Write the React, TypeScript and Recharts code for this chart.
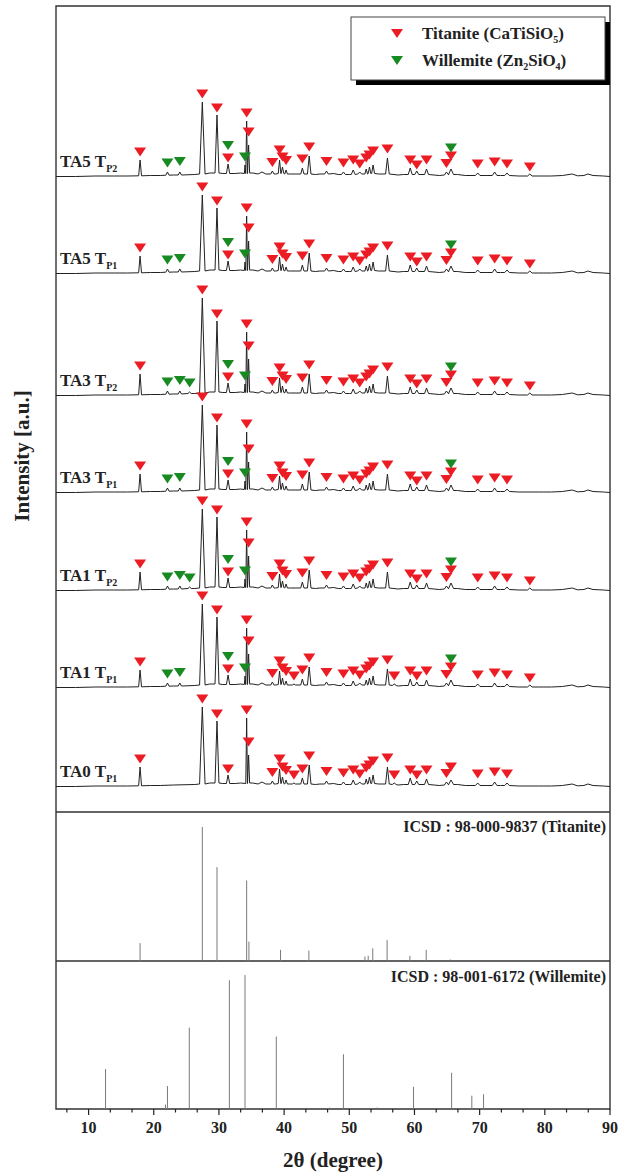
import React from "react";
import {
  ComposedChart,
  Line,
  Scatter,
  XAxis,
  YAxis,
  ReferenceArea,
  ReferenceLine,
} from "recharts";

const FONT = '"Liberation Serif", "Times New Roman", serif';
const RED = "#ec1c24";
const GREEN = "#178a22";
const INK = "#222";

// 2θ of every peak seen in the measured patterns
const peakPos = [
  17.9, 22.1, 24.0, 25.5, 27.45, 29.7, 31.4, 34.0, 34.25, 34.55, 38.2, 39.3,
  39.75, 40.3, 41.5, 42.8, 43.85, 46.5, 49.1, 50.6, 51.6, 52.6, 53.1, 53.65,
  55.85, 56.9, 59.35, 60.35, 61.85, 64.9, 65.6, 69.7, 72.3, 74.2, 77.7,
];
// t = titanite, w = willemite, tw = both
const peakPhase = [
  "t", "w", "w", "w", "t", "t", "tw", "w", "t", "t", "t", "t",
  "t", "t", "t", "t", "t", "t", "t", "t", "t", "t", "t", "t",
  "t", "t", "t", "t", "t", "t", "tw", "t", "t", "t", "t",
];
const peakWidth = [
  0.22, 0.25, 0.25, 0.25, 0.42, 0.3, 0.25, 0.1, 0.13, 0.16, 0.25, 0.2,
  0.2, 0.2, 0.25, 0.25, 0.27, 0.28, 0.3, 0.3, 0.3, 0.2, 0.2, 0.22,
  0.28, 0.3, 0.3, 0.3, 0.3, 0.3, 0.4, 0.35, 0.35, 0.35, 0.35,
];
const peakFoot = [
  1.2, 1.8, 2, 2.5, 3, 4, 3.5, 3.5, 3.5, 4, 3, 3.5,
  3.5, 3, 3, 3, 3, 3, 2.5, 2.5, 3, 3, 3.5, 3.5,
  3, 2.5, 2.5, 2.5, 2.5, 2, 2.5, 1.5, 1.5, 1.5, 1,
];
// marker centre above the peak top
const redGap = [
  8, 0, 0, 0, 8, 7, 6, 0, 8, 13, 8.5, 10,
  10, 9.5, 8, 9, 9, 9.5, 9, 10, 8, 11, 12, 14,
  9, 8, 8, 6, 9, 8.5, 13, 9, 10, 9, 7,
];
const greenGap = [
  0, 9, 10.5, 9, 0, 0, 18.5, 8, 0, 0, 0, 0,
  0, 0, 0, 0, 0, 0, 0, 0, 0, 0, 0, 0,
  0, 0, 0, 0, 0, 0, 21, 0, 0, 0, 0,
];

// background between peaks (px above each trace's baseline)
const background: [number, number][] = [
  [5, 0.5], [8, 0.5], [11, 1], [14, 1], [16, 1], [19.5, 1.5], [21, 1.5],
  [23, 2], [26.3, 2.5], [28.6, 4], [30.6, 3.5], [32.5, 3.5], [33.3, 4],
  [35.2, 4], [36, 3], [36.6, 5], [37.2, 3], [38.7, 3], [41, 3], [44.8, 2.5],
  [45.5, 3], [47.6, 3.5], [48.3, 2.5], [50, 2.5], [54.5, 3], [57.5, 2],
  [58.3, 2.5], [63, 2], [63.8, 1.5], [66.6, 2.5], [67.8, 1.5], [71, 1.5],
  [73.2, 1.5], [76, 1], [79, 1], [81, 1], [82.7, 1.5], [84.2, 3], [85, 1.2],
  [86, 1.5], [86.6, 3], [87.4, 1.5], [89, 1], [90, 0.5],
];

const sampleNames = ["TA5", "TA5", "TA3", "TA3", "TA1", "TA1", "TA0"];
const sampleSubs = ["P2", "P1", "P2", "P1", "P2", "P1", "P1"];
const sampleOffset = [635, 538, 416, 319, 221, 124, 25];
const hasWillemite = [true, true, true, true, true, true, false];

// peak tops per sample, same order as peakPos (0 = no peak)
const ta5p2 = [17, 5, 5, 0, 75, 62, 13, 12, 56, 32, 6, 17, 10, 7, 0, 9, 21, 6, 5, 7, 5, 8, 10, 12, 19, 0, 9, 6, 8, 5, 8, 4, 5, 4, 3];
const ta5p1 = [18, 5, 5, 0, 79, 66, 13, 12, 58, 33, 6, 17, 10, 7, 0, 9, 21, 6, 5, 7, 5, 8, 10, 12, 19, 0, 9, 6, 8, 5, 8, 4, 5, 4, 3];
const ta3p2 = [22, 5, 5, 4, 98, 75, 13, 12, 64, 37, 6, 18, 10, 7, 0, 9, 22, 6, 5, 7, 5, 8, 10, 12, 20, 0, 9, 6, 8, 5, 8, 4, 5, 4, 3];
const ta3p1 = [19, 5, 5, 0, 88, 68, 13, 12, 61, 31, 6, 17, 10, 7, 0, 9, 21, 6, 5, 7, 5, 8, 10, 12, 19, 0, 9, 6, 8, 5, 8, 4, 5, 4, 0];
const ta1p2 = [19, 5, 5, 4, 82, 74, 13, 12, 61, 35, 6, 17, 10, 7, 0, 9, 21, 6, 5, 7, 5, 8, 10, 12, 19, 0, 9, 6, 8, 5, 8, 4, 5, 4, 3];
const ta1p1 = [18, 5, 5, 0, 84, 71, 13, 12, 60, 34, 6, 17, 10, 7, 4, 9, 21, 6, 5, 7, 5, 8, 10, 12, 19, 4, 9, 6, 8, 5, 8, 4, 5, 4, 3];
const ta0p1 = [20, 0, 0, 0, 80, 66, 12, 0, 69, 32, 6, 18, 10, 7, 4, 9, 22, 6, 5, 7, 5, 8, 10, 12, 20, 4, 9, 6, 8, 5, 7, 4, 5, 4, 0];
const sampleHeights = [ta5p2, ta5p1, ta3p2, ta3p1, ta1p2, ta1p1, ta0p1];

// ICSD reference sticks [2θ, relative intensity]
const titaniteRef: [number, number][] = [
  [17.9, 0.12], [27.45, 0.9], [29.7, 0.63], [34.25, 0.54], [34.6, 0.13],
  [39.45, 0.075], [43.8, 0.07], [52.4, 0.03], [52.9, 0.035], [53.6, 0.085],
  [55.8, 0.14], [59.3, 0.035], [61.8, 0.075], [65.5, 0.01],
];
const willemiteRef: [number, number][] = [
  [12.6, 0.27], [21.8, 0.03], [22.1, 0.155], [25.45, 0.55], [31.6, 0.87],
  [34.0, 0.905], [38.8, 0.49], [47.0, 0.01], [49.1, 0.37], [54.3, 0.01],
  [59.85, 0.15], [65.7, 0.245], [68.8, 0.09], [70.6, 0.1],
];

const majorTicks = [10, 20, 30, 40, 50, 60, 70, 80, 90];

const TOP_MAX = 806;
const MARGIN = { top: 0, right: 11, bottom: 0, left: 56 };

function buildTrace(heights: number[], offset: number) {
  const pts: { t: number; v: number }[] = [];
  heights.forEach((h, i) => {
    if (!h) return;
    const w = peakWidth[i];
    pts.push({ t: peakPos[i] - w, v: offset + peakFoot[i] });
    pts.push({ t: peakPos[i], v: offset + h });
    pts.push({ t: peakPos[i] + w, v: offset + peakFoot[i] });
  });
  background.forEach(([t, b]) => {
    const inside = heights.some(
      (h, i) => h && Math.abs(t - peakPos[i]) <= peakWidth[i] + 0.05
    );
    if (!inside) pts.push({ t, v: offset + b });
  });
  return pts.sort((a, b) => a.t - b.t);
}

const traces = sampleHeights.map((h, s) => buildTrace(h, sampleOffset[s]));

const redMarks: { t: number; v: number }[] = [];
const greenMarks: { t: number; v: number }[] = [];
sampleHeights.forEach((heights, s) => {
  heights.forEach((h, i) => {
    if (!h) return;
    const ph = peakPhase[i];
    if (ph.includes("t")) redMarks.push({ t: peakPos[i], v: sampleOffset[s] + h + redGap[i] });
    if (ph === "w" || (ph === "tw" && hasWillemite[s]))
      greenMarks.push({ t: peakPos[i], v: sampleOffset[s] + h + greenGap[i] });
  });
});

const allTicks: number[] = [];
majorTicks.forEach((m) => {
  allTicks.push(m - 20 / 3, m - 10 / 3, m);
});
const xTicks = allTicks.filter((t) => t >= 5);

const triangle = (color: string) => (p: any) => {
  const { cx, cy } = p;
  return (
    <path
      d={`M${cx - 6},${cy - 4.5} L${cx + 6},${cy - 4.5} L${cx},${cy + 4.5} Z`}
      fill={color}
    />
  );
};

const XTick = (props: any) => {
  const { x, y, payload } = props;
  const major = majorTicks.some((m) => Math.abs(m - payload.value) < 0.01);
  return (
    <g>
      <line x1={x} y1={y} x2={x} y2={y + (major ? 6 : 3.5)} stroke={INK} strokeWidth={1.2} />
      {major && (
        <text x={x} y={y + 24} textAnchor="middle" fontFamily={FONT} fontWeight="bold" fontSize={16} fill={INK}>
          {payload.value}
        </text>
      )}
    </g>
  );
};

const Frame = ({ top }: { top: number }) => (
  <ReferenceArea x1={5} x2={90} y1={0} y2={top} fill="none" stroke="#333" strokeWidth={1.4} />
);

export default function App() {
  return (
    <div style={{ position: "relative", width: 621, height: 1174, background: "#fff" }}>
      <style>{"body{margin:0}"}</style>

      <div style={{ position: "absolute", left: 0, top: 0 }}>
        <ComposedChart width={621} height={812} margin={{ ...MARGIN, top: 6 }}>
          <XAxis type="number" dataKey="t" domain={[5, 90]} allowDataOverflow hide />
          <YAxis type="number" dataKey="v" domain={[0, TOP_MAX]} allowDataOverflow hide />
          {traces.map((d, s) => (
            <Line
              key={s}
              data={d}
              dataKey="v"
              type="linear"
              stroke={INK}
              strokeWidth={1}
              dot={false}
              isAnimationActive={false}
            />
          ))}
          <Scatter data={redMarks} shape={triangle(RED)} isAnimationActive={false} />
          <Scatter data={greenMarks} shape={triangle(GREEN)} isAnimationActive={false} />
          <Frame top={TOP_MAX} />
        </ComposedChart>
      </div>

      <div style={{ position: "absolute", left: 0, top: 812 }}>
        <ComposedChart width={621} height={149} margin={MARGIN}>
          <XAxis type="number" dataKey="t" domain={[5, 90]} allowDataOverflow hide />
          <YAxis type="number" dataKey="v" domain={[0, 1]} allowDataOverflow hide />
          {titaniteRef.map(([t, h]) => (
            <ReferenceLine key={t} segment={[{ x: t, y: 0 }, { x: t, y: h }]} stroke="#7a7a7a" strokeWidth={1} />
          ))}
          <Frame top={1} />
        </ComposedChart>
      </div>

      <div style={{ position: "absolute", left: 0, top: 961 }}>
        <ComposedChart width={621} height={213} margin={{ ...MARGIN, bottom: 25 }}>
          <XAxis
            type="number"
            dataKey="t"
            domain={[5, 90]}
            allowDataOverflow
            ticks={xTicks}
            interval={0}
            tick={<XTick />}
            tickLine={false}
            axisLine={false}
            tickSize={0}
            tickMargin={0}
            height={40}
          />
          <YAxis type="number" dataKey="v" domain={[0, 1]} allowDataOverflow hide />
          {willemiteRef.map(([t, h]) => (
            <ReferenceLine key={t} segment={[{ x: t, y: 0 }, { x: t, y: h }]} stroke="#7a7a7a" strokeWidth={1} />
          ))}
          <Frame top={1} />
        </ComposedChart>
      </div>

      <svg
        width={621}
        height={1174}
        style={{ position: "absolute", left: 0, top: 0, pointerEvents: "none" }}
        fontFamily={FONT}
        fontWeight="bold"
        fill={INK}
      >
        {sampleNames.map((n, s) => (
          <text key={s} x={60} y={812 - sampleOffset[s] - 10} fontSize={17}>
            {n} T
            <tspan fontSize={10} dy={5}>{sampleSubs[s]}</tspan>
          </text>
        ))}

        <rect x={356} y={22} width={254} height={63} fill="#000" />
        <rect x={351} y={17} width={254} height={63} fill="#fff" stroke="#444" strokeWidth={1} />
        <path d="M391,29 L403,29 L397,38 Z" fill={RED} />
        <path d="M391,56 L403,56 L397,65 Z" fill={GREEN} />
        <text x={422} y={39} fontSize={17}>
          Titanite (CaTiSiO<tspan fontSize={10} dy={4}>5</tspan>
          <tspan dy={-4}>)</tspan>
        </text>
        <text x={422} y={66} fontSize={17}>
          Willemite (Zn<tspan fontSize={10} dy={4}>2</tspan>
          <tspan dy={-4}>SiO</tspan>
          <tspan fontSize={10} dy={4}>4</tspan>
          <tspan dy={-4}>)</tspan>
        </text>

        <text x={606} y={832} fontSize={16} textAnchor="end">ICSD : 98-000-9837 (Titanite)</text>
        <text x={606} y={982} fontSize={16} textAnchor="end">ICSD : 98-001-6172 (Willemite)</text>

        <text transform="rotate(-90)" x={-456} y={29} fontSize={21} textAnchor="middle">
          Intensity [a.u.]
        </text>
        <text x={333} y={1167} fontSize={21} textAnchor="middle">2θ (degree)</text>
      </svg>
    </div>
  );
}
